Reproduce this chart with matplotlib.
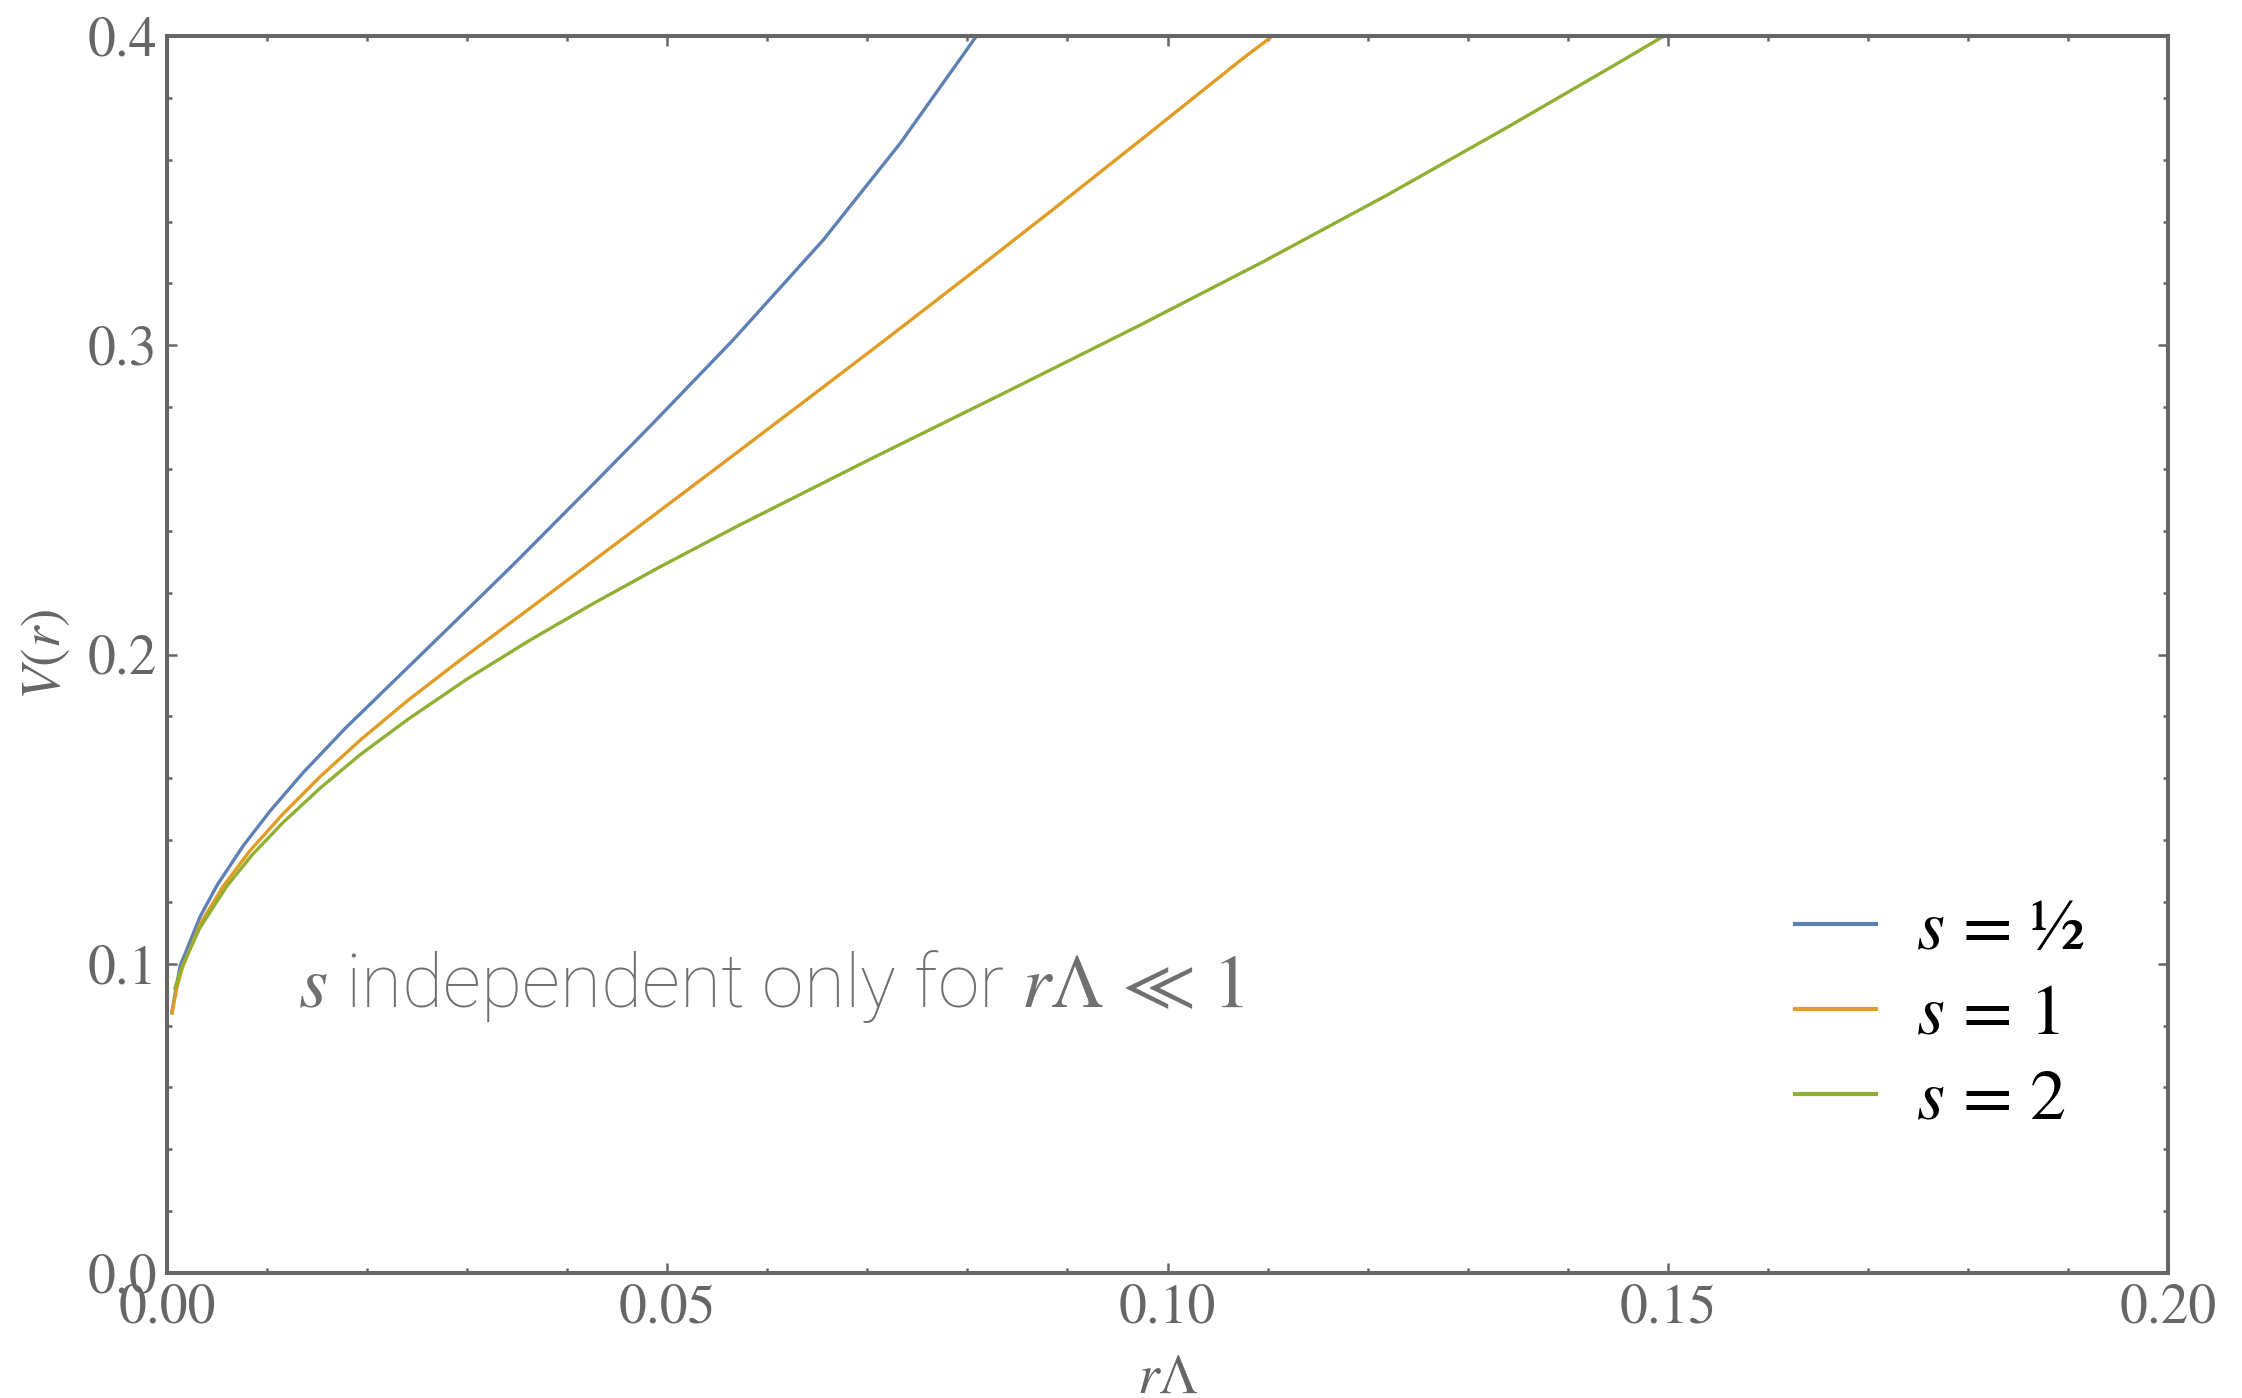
import matplotlib
matplotlib.use('Agg')
import matplotlib.pyplot as plt
from matplotlib.ticker import MultipleLocator

plt.rcParams['mathtext.fontset'] = 'stix'
serif = 'STIXGeneral'

# V(r) against r*Lambda for three values of s
x_half = [0.0005, 0.0009, 0.0013, 0.0033, 0.0050, 0.0076, 0.0103, 0.0136,
          0.0178, 0.0246, 0.0300, 0.0348, 0.0433, 0.0486, 0.0566, 0.0656,
          0.0733, 0.0809]
v_half = [0.0845, 0.0920, 0.0992, 0.1152, 0.1254, 0.1381, 0.1494, 0.1618,
          0.1761, 0.1975, 0.2145, 0.2297, 0.2574, 0.2749, 0.3018, 0.3341,
          0.3654, 0.4000]

x_one = [0.0005, 0.0010, 0.0015, 0.0033, 0.0056, 0.0083, 0.0116, 0.0153,
         0.0193, 0.0240, 0.0293, 0.0360, 0.0428, 0.0465, 0.0552, 0.0636,
         0.0720, 0.0804, 0.0889, 0.0976, 0.1075, 0.1105]
v_one = [0.0840, 0.0925, 0.0984, 0.1128, 0.1250, 0.1366, 0.1485, 0.1605,
         0.1723, 0.1850, 0.1982, 0.2143, 0.2308, 0.2398, 0.2610, 0.2816,
         0.3023, 0.3233, 0.3448, 0.3671, 0.3927, 0.4000]

x_two = [0.0008, 0.0015, 0.0033, 0.0060, 0.0085, 0.0116, 0.0153, 0.0193,
         0.0241, 0.0300, 0.0363, 0.0426, 0.0493, 0.0570, 0.0703, 0.0840,
         0.0973, 0.1096, 0.1219, 0.1338, 0.1451, 0.1496]
v_two = [0.0922, 0.0991, 0.1117, 0.1252, 0.1352, 0.1457, 0.1568, 0.1676,
         0.1791, 0.1921, 0.2047, 0.2165, 0.2284, 0.2415, 0.2632, 0.2851,
         0.3066, 0.3271, 0.3485, 0.3702, 0.3914, 0.4000]

labels = ['$s$ = ½', '$s$ = 1', '$s$ = 2']
colors = ['#5e81b5', '#e19c24', '#8fb032']

x_ticks = [0.0, 0.05, 0.10, 0.15, 0.20]
x_ticklabels = ['0.00', '0.05', '0.10', '0.15', '0.20']
y_ticks = [0.0, 0.1, 0.2, 0.3, 0.4]
y_ticklabels = ['0.0', '0.1', '0.2', '0.3', '0.4']

gray = '#666666'

fig = plt.figure(figsize=(22.42, 13.98), dpi=100)
ax = fig.add_axes([0.0745, 0.0894, 0.8925, 0.8848])

for xs, vs, c, lab in zip([x_half, x_one, x_two], [v_half, v_one, v_two], colors, labels):
    ax.plot(xs, vs, color=c, lw=2.4, label=lab, solid_joinstyle='round')

ax.set_xlim(0, 0.2)
ax.set_ylim(0, 0.4)
ax.set_xticks(x_ticks)
ax.set_xticklabels(x_ticklabels)
ax.set_yticks(y_ticks)
ax.set_yticklabels(y_ticklabels)
ax.xaxis.set_minor_locator(MultipleLocator(0.01))
ax.yaxis.set_minor_locator(MultipleLocator(0.02))

ax.tick_params(which='both', direction='in', top=True, right=True,
               color=gray, width=1.8, labelcolor=gray)
ax.tick_params(which='major', length=7, labelsize=40)
ax.tick_params(which='minor', length=3.6)
ax.tick_params(axis='x', pad=8)
ax.tick_params(axis='y', pad=7)
for lab in ax.get_xticklabels() + ax.get_yticklabels():
    lab.set_family(serif)

for sp in ax.spines.values():
    sp.set_color(gray)
    sp.set_linewidth(2.9)

ax.set_xlabel(r'$r\Lambda$', fontsize=40, color=gray)
ax.set_ylabel(r'$V(r)$', fontsize=40, color=gray)
ax.xaxis.set_label_coords(0.5, -0.063)
ax.yaxis.set_label_coords(-0.0475, 0.5)

ax.legend(loc='center left', bbox_to_anchor=(0.8136, 0.207), frameon=False,
          prop={'family': serif, 'size': 52},
          handlelength=1.12, handletextpad=0.55, labelspacing=0.26,
          borderaxespad=0, borderpad=0)
for ln in ax.get_legend().get_lines():
    ln.set_linewidth(3)

fig.text(0.1329, 0.2797, r'$s$ independent only for $r\Lambda\,\ll\,1$',
         family='Roboto', weight='light', fontsize=54, color='#707070',
         ha='left', va='baseline')

fig.savefig('out.png', dpi=100)
